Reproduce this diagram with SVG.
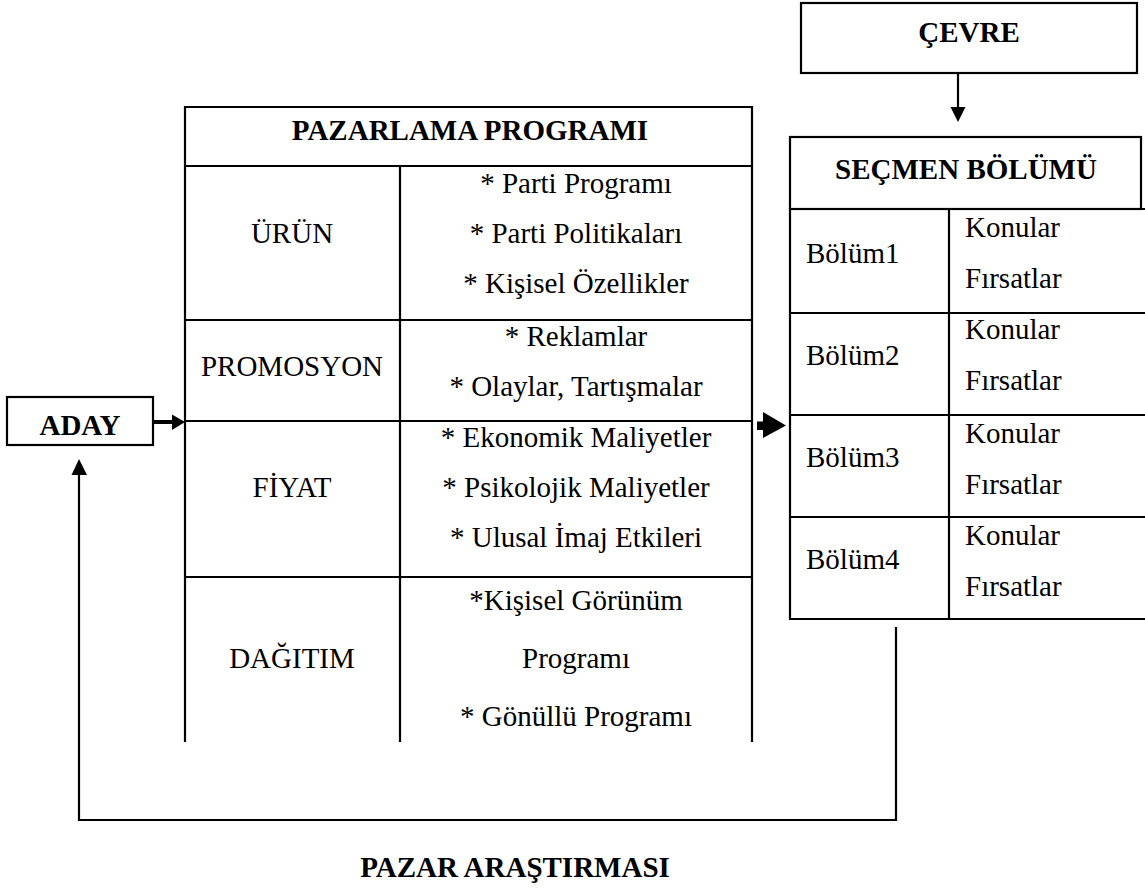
<svg xmlns="http://www.w3.org/2000/svg" width="1145" height="888" viewBox="0 0 1145 888">
<style>
text{font-family:"Liberation Serif","Times New Roman",serif;font-size:29px;fill:#000}
.b{font-weight:bold}
.c{text-anchor:middle}
.ln{stroke:#000;stroke-width:2.2;fill:none}
.bx{stroke:#000;stroke-width:2.2;fill:#fff}
</style>
<rect width="1145" height="888" fill="#fff"/>
<g id="cevre">
<rect class="bx" x="801" y="3" width="336" height="70"/>
<text class="b c" x="969" y="42">ÇEVRE</text>
</g>
<g id="aday">
<rect class="bx" x="7" y="397" width="146" height="48"/>
<text class="b c" x="80" y="435">ADAY</text>
</g>
<g id="pazarlama-programi">
<path class="ln" d="M185,742 V107 H752 V742 M185,166 H752 M400,166 V742 M185,320 H752 M185,421 H752 M185,577 H752"/>
<text class="b c" x="470" y="140">PAZARLAMA PROGRAMI</text>
<text class="c" x="292" y="243">ÜRÜN</text>
<text class="c" x="576" y="193">* Parti Programı</text>
<text class="c" x="576" y="243">* Parti Politikaları</text>
<text class="c" x="576" y="293">* Kişisel Özellikler</text>
<text class="c" x="292" y="376">PROMOSYON</text>
<text class="c" x="576" y="346">* Reklamlar</text>
<text class="c" x="576" y="396">* Olaylar, Tartışmalar</text>
<text class="c" x="292" y="497">FİYAT</text>
<text class="c" x="576" y="447">* Ekonomik Maliyetler</text>
<text class="c" x="576" y="497">* Psikolojik Maliyetler</text>
<text class="c" x="576" y="547">* Ulusal İmaj Etkileri</text>
<text class="c" x="292" y="668">DAĞITIM</text>
<text class="c" x="576" y="610">*Kişisel Görünüm</text>
<text class="c" x="576" y="668">Programı</text>
<text class="c" x="576" y="726">* Gönüllü Programı</text>
</g>
<g id="secmen-bolumu">
<rect class="bx" x="790" y="137" width="351" height="72"/>
<text class="b c" x="966" y="179">SEÇMEN BÖLÜMÜ</text>
<path class="ln" d="M1146,209 H790 V619 H1146 M949,209 V619 M790,313 H1146 M790,415 H1146 M790,517 H1146"/>
<text x="806" y="263">Bölüm1</text>
<text x="965" y="237">Konular</text>
<text x="965" y="288">Fırsatlar</text>
<text x="806" y="365">Bölüm2</text>
<text x="965" y="339">Konular</text>
<text x="965" y="390">Fırsatlar</text>
<text x="806" y="467">Bölüm3</text>
<text x="965" y="443">Konular</text>
<text x="965" y="494">Fırsatlar</text>
<text x="806" y="569">Bölüm4</text>
<text x="965" y="545">Konular</text>
<text x="965" y="596">Fırsatlar</text>
</g>
<g id="pazar-arastirmasi">
<text class="b c" x="515" y="877">PAZAR ARAŞTIRMASI</text>
</g>
<g id="connectors">
<path class="ln" d="M958,73 V108"/>
<polygon points="950.5,107 965.5,107 958,122"/>
<path d="M153,422 H173" stroke="#000" stroke-width="4"/>
<polygon points="172,414.5 185,422 172,430"/>
<rect x="757" y="421.5" width="7" height="8.5"/>
<polygon points="763,412 786,425.5 763,438"/>
<path class="ln" d="M896,627 V820 H79 V474"/>
<polygon points="71.5,475 87,475 79,459"/>
</g>
</svg>
